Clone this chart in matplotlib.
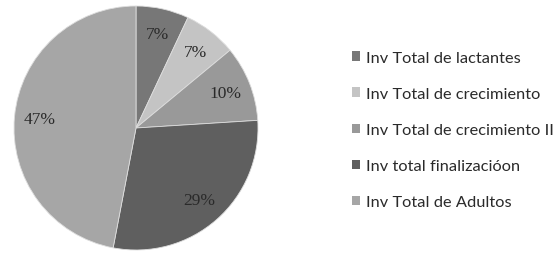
import matplotlib
matplotlib.use("Agg")
import matplotlib.pyplot as plt
from matplotlib.patches import Patch

labels = ["Inv Total de lactantes", "Inv Total de crecimiento", "Inv Total de crecimiento II",
          "Inv total finalizacióon", "Inv Total de Adultos"]
values = [7, 7, 10, 29, 47]
colors = ["#777777", "#c4c4c4", "#999999", "#5f5f5f", "#a6a6a6"]

W, H = 559, 255
fig = plt.figure(figsize=(W / 100, H / 100), dpi=100)
cx, cy, r = 136, 129, 122
ax = fig.add_axes([(cx - r) / W, (H - cy - r) / H, 2 * r / W, 2 * r / H])
wedges, texts, autotexts = ax.pie(values, colors=colors, startangle=90, counterclock=False,
                                  autopct="%d%%", pctdistance=0.79,
                                  wedgeprops=dict(edgecolor="#dddddd", linewidth=0.6),
                                  textprops=dict(family="Liberation Serif", fontsize=12.5, color="#2a2a2a"))
ax.set_xlim(-1, 1)
ax.set_ylim(-1, 1)
ax.set_aspect("equal")

handles = [Patch(facecolor=c, edgecolor="none") for c in colors]
fig.legend(handles, labels, loc="center left", bbox_to_anchor=(337 / W, 1 - 131 / H),
           frameon=False, prop=dict(family="Lato", size=11.8),
           handlelength=0.5, handleheight=0.5, handletextpad=0.35, labelspacing=1.35,
           labelcolor="#2a2a2a")

fig.savefig("out.png", dpi=100)
